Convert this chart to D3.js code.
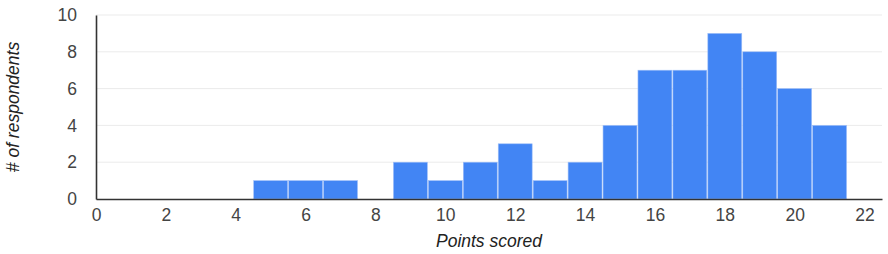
<!DOCTYPE html>
<html>
<head>
<meta charset="utf-8">
<script src="https://cdn.jsdelivr.net/npm/d3@7"></script>
<style>
  body { margin: 0; background: #fff; }
  text { font-family: "Liberation Sans", Arial, sans-serif; }
</style>
</head>
<body>
<div id="chart"></div>
<script>
// points scored (bin centers) and number of respondents
var points = [0, 1, 2, 3, 4, 5, 6, 7, 8, 9, 10, 11, 12, 13, 14, 15, 16, 17, 18, 19, 20, 21, 22];
var counts = [0, 0, 0, 0, 0, 1, 1, 1, 0, 2, 1, 2, 3, 1, 2, 4, 7, 7, 9, 8, 6, 4, 0];
var xTicks = [0, 2, 4, 6, 8, 10, 12, 14, 16, 18, 20, 22];
var yTicks = [0, 2, 4, 6, 8, 10];

var width = 888, height = 254;
var padding = {top: 15, bottom: 55, left: 96, right: 6};

var svg = d3.select("#chart").append("svg").attr("width", width).attr("height", height);

var x = d3.scaleLinear().domain([0, 22.5]).range([padding.left, width - padding.right]);
var y = d3.scaleLinear().domain([0, 10]).range([height - padding.bottom, padding.top]);

// horizontal gridlines
svg.append("g")
	.selectAll("line")
	.data(yTicks.filter(function(d){ return d > 0; }))
	.join("line")
	.attr("x1", x(0))
	.attr("x2", x(22.5))
	.attr("y1", function(d){ return y(d); })
	.attr("y2", function(d){ return y(d); })
	.style("stroke", "#ebebeb")
	.style("stroke-width", 1);

// bars
svg.append("g")
	.selectAll("rect")
	.data(points)
	.join("rect")
	.attr("x", function(d){ return x(d - 0.5) + 0.5; })
	.attr("width", function(d){ return x(d + 0.5) - x(d - 0.5) - 1; })
	.attr("y", function(d, i){ return y(counts[i]); })
	.attr("height", function(d, i){ return y(0) - y(counts[i]); })
	.style("fill", "#4285f4")
	.style("stroke", "#9fbff8")
	.style("stroke-width", 0.6);

// y axis
var yAxis = d3.axisLeft(y).tickValues(yTicks).tickSize(0).tickPadding(19);
var gy = svg.append("g")
	.attr("transform", "translate(" + x(0) + ",0)")
	.call(yAxis);
gy.select(".domain").style("stroke", "#333").style("stroke-width", 1.6);
gy.selectAll("text").style("font-size", "17.5px").style("fill", "#444");

// x axis
var xAxis = d3.axisBottom(x).tickValues(xTicks).tickSize(0).tickPadding(10);
var gx = svg.append("g")
	.attr("transform", "translate(0," + y(0) + ")")
	.call(xAxis);
gx.select(".domain").style("stroke", "#333").style("stroke-width", 1.6);
gx.selectAll("text").style("font-size", "17.5px").style("fill", "#444");

// axis titles
svg.append("text")
	.attr("transform", "rotate(-90)")
	.attr("x", -107)
	.attr("y", 19)
	.style("text-anchor", "middle")
	.style("font-size", "17.5px")
	.style("font-style", "italic")
	.style("fill", "#222")
	.text("# of respondents");

svg.append("text")
	.attr("x", 489)
	.attr("y", 247)
	.style("text-anchor", "middle")
	.style("font-size", "17.5px")
	.style("font-style", "italic")
	.style("fill", "#222")
	.text("Points scored");
</script>
</body>
</html>
